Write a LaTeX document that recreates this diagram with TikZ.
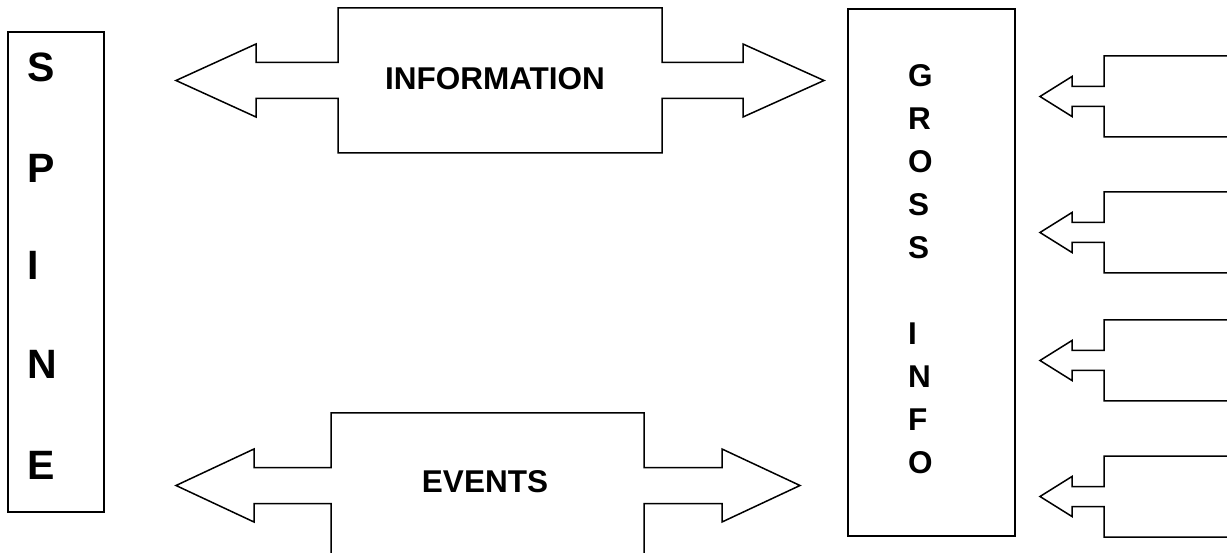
\documentclass[tikz,border=0pt]{standalone}
\usepackage{fontspec}
\setmainfont{Liberation Sans}
\begin{document}
\begin{tikzpicture}[x=1pt,y=-1pt,
  outline/.style={draw=black,line width=1.5pt,line join=miter,fill=white},
  boxline/.style={draw=black,line width=1.8pt},
  lbl/.style={inner sep=0pt,font=\fontsize{31.5}{36}\selectfont\bfseries},
  letter/.style={lbl,anchor=base west},
  bigletter/.style={inner sep=0pt,anchor=base west,font=\fontsize{41}{46}\selectfont\bfseries}]
\clip (0,0) rectangle (1227,553);
\fill[white] (0,0) rectangle (1227,553);
% SPINE box
\draw[boxline] (8,32) rectangle (104,512);
\foreach \t/\yy [count=\i] in {S/67,P/168,I/265,N/364,E/465}
  \node[bigletter] (sp\i) at (27,\yy+14.7) {\t};
% INFORMATION double arrow
\draw[outline] (176,80.5) -- (256,44) -- (256,62.5) -- (338,62.5) -- (338,8) -- (662,8)
  -- (662,62.5) -- (743,62.5) -- (743,44) -- (824,80.5) -- (743,117) -- (743,98.5)
  -- (662,98.5) -- (662,153) -- (338,153) -- (338,98.5) -- (256,98.5) -- (256,117) -- cycle;
\node[lbl] (info) at (495,79) {INFORMATION};
% EVENTS double arrow
\draw[outline] (176,485.5) -- (254,449) -- (254,467.5) -- (331,467.5) -- (331,413) -- (644,413)
  -- (644,467.5) -- (722,467.5) -- (722,449) -- (800,485.5) -- (722,522) -- (722,503.5)
  -- (644,503.5) -- (644,560) -- (331,560) -- (331,503.5) -- (254,503.5) -- (254,522) -- cycle;
\node[lbl] (events) at (485,482) {EVENTS};
% GROSS INFO box
\draw[boxline] (848,9) rectangle (1015,536);
\foreach \t/\yy [count=\i] in {G/75,R/118,O/161,S/204,S/247,I/333,N/376,F/419,O/462}
  \node[letter] (gi\i) at (908,\yy+11.3) {\t};
% small incoming arrows
\foreach \c [count=\i] in {96.5,232.5,360.5,496.5}
  \draw[outline] (1040,\c) -- (1072,\c-20) -- (1072,\c-10) -- (1104,\c-10) -- (1104,\c-40.5)
    -- (1240,\c-40.5) -- (1240,\c+40.5) -- (1104,\c+40.5) -- (1104,\c+10) -- (1072,\c+10)
    -- (1072,\c+20) -- cycle;
\end{tikzpicture}
\end{document}
